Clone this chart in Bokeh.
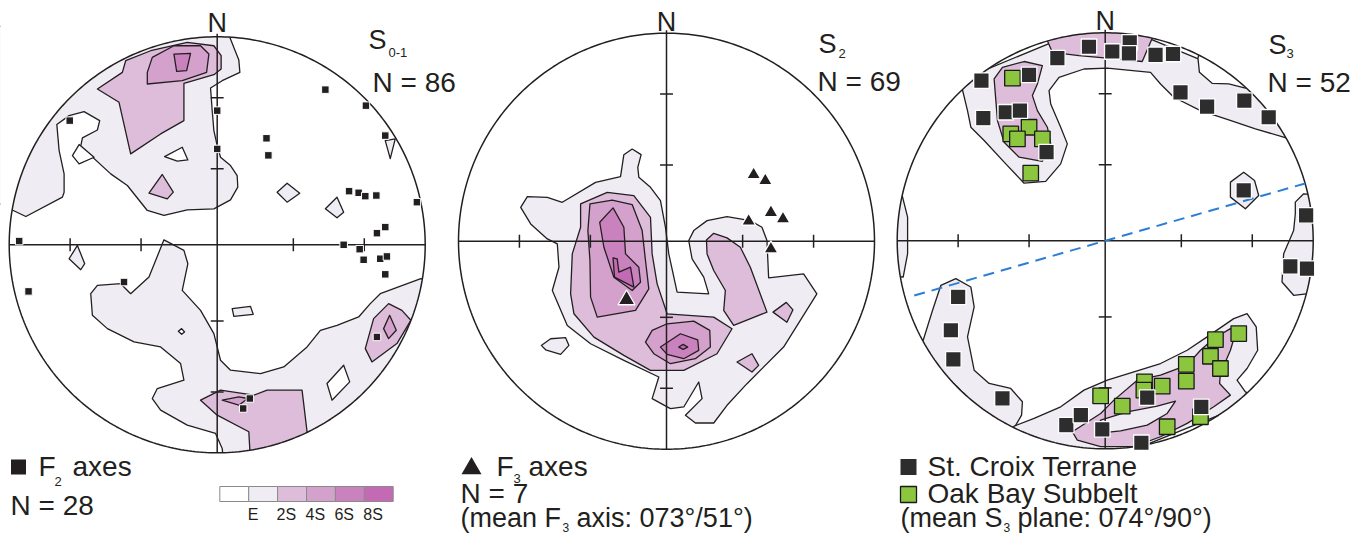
import numpy as np
from bokeh.plotting import figure
from bokeh.models import Range1d
from bokeh.core.properties import value
from bokeh.embed import file_html
from bokeh.resources import INLINE

# ---------------- legend / contour levels ----------------
LEVEL_LABELS = ["E", "2S", "4S", "6S", "8S"]
LEVEL_COLORS = ["#ffffff", "#efedf3", "#ddbdd9", "#d4a1cc", "#ca82be", "#c46ab4"]
TICK_PLUNGES = [60, 30]          # graticule ticks on the equal-area net

# All net coordinates: equal-area projection, east / north in % of net radius
# ---------------- Net 1 : S0-1 poles, F2 axes ----------------
S01_TITLE = ["S", "0-1"]
S01_N = 86
F2_N = 28
S01_L1 = [
    [(4.8, 103), (8, 94.9), (10.4, 88.8), (10.9, 82.9), (2.4, 78.9), (-3.2, 75.4), (-2.4, 64.5), (-1.6, 54.9),
     (0, 47.7), (1.6, 42.1), (6.4, 38.1), (9.6, 33.3), (9.9, 27.7), (6.4, 21.6), (-1.6, 17.3), (-14.4, 16.8),
     (-25.6, 14.1), (-33.6, 16.5), (-43.2, 28.5), (-51.2, 34.1), (-65.6, 47.4), (-64.8, 51.4), (-57.6, 55.2),
     (-56.5, 59.7), (-64, 64), (-71.2, 62.1), (-77.1, 57.8), (-76, 45.3), (-73.6, 34.1), (-73.6, 25.3),
     (-74.4, 22.9), (-92, 13.6), (-100.8, 17.8), (-105, 20), (-105, 105)],
    [(-25.6, 2.4), (-16, -2.7), (-14.1, -9.1), (-16.8, -21.9), (-8, -31.5), (-1.6, -42.7), (1.6, -55.5),
     (6.4, -60.3), (20.8, -61.9), (32, -58.7), (43.2, -49.1), (49.6, -41.1), (57.6, -38.7), (68, -34.7),
     (73.6, -28.3), (78.4, -23.5), (97.9, -16.3), (104, -17), (104, -104), (3, -104), (2.4, -97.9),
     (-0.8, -90.7), (-14.4, -86.7), (-27.2, -79.5), (-31.2, -73.9), (-28.8, -69.1), (-16, -65.1),
     (-17.6, -57.1), (-27.2, -49.1), (-40, -46.7), (-52.8, -40.3), (-60, -33.9), (-60.8, -23.5),
     (-57.6, -19.5), (-46.4, -18.7), (-41.6, -23.5), (-32.8, -15.5)],
    [(7.2, -30.7), (16, -29.6), (17.3, -33.4), (8, -34.4)],
    [(28.8, 25.3), (33.6, 29.6), (39.7, 24.8), (33.6, 20.5)],
    [(52, 17.3), (57.6, 22.9), (60.8, 15.7), (57.6, 13.0)],
    [(80.8, 50.1), (85.6, 50.9), (83.2, 41.4)],
    [(-71.2, -6.7), (-67.2, -0.3), (-63.7, -9.1), (-65.6, -12.0)],
]
S01_HOLES = [
    [(-69.6, 42.9), (-66.4, 48.2), (-59.2, 42.1), (-66.4, 38.9)],
    [(-25.3, 42.4), (-16.8, 46.9), (-14.1, 40.8), (-19.2, 40.2)],
    [(52.8, -66.7), (60.8, -57.9), (63.7, -65.9), (55.2, -74.7)],
    [(-18.7, -41.6), (-17.1, -40.3), (-15.7, -41.9), (-17.1, -43.0)],
]
S01_L2 = [
    [(-57.6, 74.9), (-45.6, 82.9), (-44, 88.5), (-32, 93.3), (-14.4, 97.3), (-1.6, 95.7), (1.9, 90.9),
     (1.9, 84.5), (-1.6, 81.8), (-16, 77.6), (-16, 59.7), (-27.2, 53.3), (-41.6, 43.7), (-47.2, 68.5)],
    [(-32.8, 24.8), (-26.4, 33.8), (-21.1, 25.3), (-24, 22.1)],
    [(-8, -74.7), (1.6, -69.9), (17.6, -72.3), (24, -69.9), (40.8, -69.9), (43.2, -89.9), (46, -98),
     (16, -104), (15.7, -98.7), (15.2, -89.9), (0, -81.9)],
    [(71.2, -49.9), (75.2, -35.5), (82.4, -28.3), (88.8, -31.5), (93.1, -36.3), (86.4, -47.5), (74.4, -56.3)],
]
S01_L3 = [
    [(-33.6, 82.9), (-31.2, 90.1), (-20.8, 95.7), (-8, 95.7), (-4, 91.7), (-5.1, 82.9), (-16.8, 78.9),
     (-33.6, 77.3)],
    [(2.4, -74.7), (10.4, -73.1), (14.7, -73.9), (10.4, -77.1)],
    [(80, -40.3), (82.9, -33.9), (86.1, -41.1), (82.4, -45.1)],
]
S01_L4 = [[(-20.8, 91.7), (-12.8, 92), (-14.7, 83.7), (-19.5, 83.4)]]
F2_E = [52, 71.5, 80.8, 23.7, 24.6, 0, 0, -70.9, 63.4, 68, 71.2, 76.5, 96, 80.8, 76.8, 60.8, 68.5, 70.4,
        78.4, 81.6, 80.8, -95.2, -90.7, -44.8, 76.8, 15.7, 12.5]
F2_N_ = [74.6, 66.9, 52.5, 51.2, 43.0, 64.5, 46.1, 59.7, 25.8, 25.0, 23.4, 23.7, 20.5, 8.5, 5.6, 0, -2.1,
         -7.2, -6.7, -5.6, -14.2, 1.8, -22.4, -17.9, -44.3, -73.9, -78.7]

# ---------------- Net 2 : S2 poles, F3 axes ----------------
S2_TITLE = ["S", "2"]
S2_N = 69
F3_N = 7
F3_MEAN = "073°/51°"
S2_L1 = [
    [(-20.5, 41.6), (-16.5, 44.3), (-12.2, 41.6), (-13.8, 35.5), (-13.3, 30.7), (-7.7, 25.9), (-2.9, 19.5),
     (-0.5, 6.7), (1.1, -6.1), (5.1, -24.5), (20.3, -25.3), (17.9, -17.3), (12.3, -8.5), (10.7, 0.3),
     (13.1, 5.1), (19.5, 9.9), (29.1, 11.8), (40.3, 9.9), (45.9, 6.7), (48.3, 0.3), (49.1, -17.6),
     (65.9, -15.7), (72.3, -25.3), (56.3, -50.9), (38.7, -68.5), (29.1, -78.9), (22.7, -87.4), (13.9, -87.4),
     (9.1, -83.7), (17.1, -75.7), (15.5, -67.7), (8.3, -79.7), (1.9, -80.5), (-6.9, -75.7), (-3.7, -65.3),
     (-20.5, -57.3), (-36.5, -49.3), (-47.7, -40.5), (-54.9, -23.7), (-51.7, -12.5), (-52.5, -1.3),
     (-57.3, 1.1), (-65.3, 8.3), (-70.1, 16.3), (-66.9, 21.4), (-57.3, 21.1), (-50.1, 18.7), (-34.1, 28.3),
     (-22.1, 31.0)],
    [(-60.2, -50.1), (-55.7, -46.9), (-48.5, -46.4), (-46.9, -50.1), (-50.9, -54.4), (-58.1, -52.2)],
]
S2_L2 = [
    [(-41.3, 17.9), (-28.5, 23.5), (-15.7, 21.9), (-7.7, 11.5), (-6.9, -6.1), (-4.5, -20.5), (0.3, -34.9),
     (22.7, -36.5), (31.5, -42.1), (24.3, -54.1), (8.3, -62.1), (-7.7, -62.1), (-20.5, -54.9), (-34.9, -46.1),
     (-44.5, -34.9), (-46.1, -25.3), (-45.3, -6.1), (-41.3, 6.7)],
    [(19.2, 0.6), (22.7, 3.8), (29.1, 1.6), (35.5, -2.9), (40.3, -12.5), (48.3, -34.1), (32.3, -40.5),
     (27.5, -33.3), (28.3, -23.7), (22.7, -14.1), (19.5, -6.1)],
    [(51.2, -34.1), (57.6, -29.4), (60.8, -33.0), (57.9, -39.0)],
    [(33.9, -58.1), (41.1, -54.1), (44.3, -59.7), (41.1, -62.9)],
]
S2_L3 = [
    [(-36.8, 17.9), (-26.1, 19.8), (-16.5, 17.6), (-11.7, 5.1), (-10.1, -9.3), (-8.5, -22.9), (-14.9, -33.3),
     (-33.3, -36.5), (-36.5, -26.9), (-36.8, -9.3), (-37.8, 5.1)],
    [(-10.1, -48.5), (-6.9, -42.9), (0.3, -39.7), (13.1, -38.4), (20.8, -42.9), (21.1, -50.9), (13.9, -56.5),
     (1.9, -58.9), (-6.1, -54.1)],
]
S2_L4 = [
    [(-32.1, 9.1), (-25.7, 16), (-20.5, 6.7), (-19.7, -6.1), (-13.3, -12.5), (-12.5, -19.7), (-16.5, -23.7),
     (-25.3, -17.3), (-30.1, -2.9)],
    [(-2.9, -50.9), (6.7, -44.5), (15.0, -47.4), (15.5, -52.5), (8.3, -56.5), (0.3, -54.4)],
]
S2_L5 = [
    [(-25.7, -8), (-23.7, -8.5), (-22.9, -14.9), (-17.3, -12.5), (-15.7, -22.1), (-25.0, -17.3)],
    [(5.9, -50.9), (8.0, -49.6), (10.2, -50.9), (8.0, -52.0)],
]
F3_E = [41.9, 47.5, 39.5, 50.2, 56.0, 50.2, -19.2]
F3_Nn = [32.0, 29.1, 9.6, 13.8, 10.7, -3.7, -28.2]

# ---------------- Net 3 : S3 poles ----------------
S3_TITLE = ["S", "3"]
S3_N = 52
S3_MEAN_STRIKE = 74
S3_MEAN_DIP = 90
S3_L1 = [
    [(-68.6, 72.5), (-66.2, 62.6), (-64.6, 54.6), (-58.2, 48.2), (-47.8, 37.0), (-39.0, 27.7), (-28.6, 28.6),
     (-21.4, 37.0), (-18.2, 46.6), (-21.4, 54.6), (-26.2, 65.8), (-27.0, 72.2), (-22.2, 78.6), (-10.2, 82.6),
     (1.0, 83.0), (21.8, 81.0), (26.6, 75.4), (33.0, 69.0), (45.8, 62.6), (59.4, 58.1), (72.2, 53.8),
     (87.4, 49.4), (92, 52), (75, 75), (0, 106), (-75, 75)],
    [(91.4, 18.6), (95.4, 22.6), (104, 22), (104, -27), (97.8, -25.4), (90.6, -26.2), (85.0, -19.8),
     (85.8, -6.2), (90.6, 5.0), (91.4, 13.0)],
    [(60.2, 28.2), (66.6, 33.0), (71.8, 29.0), (73.8, 21.8), (67.4, 15.4), (60.2, 21.0)],
    [(-97.8, 22.6), (-95, 11.4), (-95, -6.2), (-97.1, -17.4), (-104, -17), (-104, 22)],
    [(-87.5, -47.8), (-83.0, -33.4), (-79.0, -21.4), (-71.8, -18.2), (-64.6, -22.2), (-63.0, -31.8),
     (-66.2, -46.2), (-63.0, -62.2), (-55.8, -68.6), (-45.4, -71.0), (-39.8, -77.4), (-40.2, -83.8),
     (-43.0, -88.6), (-45, -96), (-92, -50)],
    [(-43.8, -89.1), (-34.2, -85.4), (-21.4, -79.8), (-10.2, -71.8), (1.0, -67.0), (13.8, -63.0),
     (26.6, -59.0), (39.4, -52.6), (49.0, -46.2), (61.8, -37.4), (68.2, -35.0), (72.6, -41.4), (73.3, -52.6),
     (68.2, -61.4), (63.4, -67.0), (67.4, -72.6), (74, -76), (0, -106), (-47, -96)],
]
S3_HOLES = [[(44.6, 87.8), (45.3, 81.0), (51.4, 75.7), (59.4, 75.4), (67.4, 73.4), (72, 78), (46, 94)]]
S3_L2 = [
    [(-27.8, 96.2), (-25.4, 90.6), (-12.6, 89.0), (1.0, 87.8), (17.8, 86.2), (22.6, 97.4), (20, 104), (-28, 102)],
    [(-53.4, 77.8), (-51.8, 57.8), (-48.6, 47.4), (-41.4, 40.2), (-30.2, 38.2), (-26.2, 46.6), (-27.8, 54.6),
     (-32.6, 62.6), (-35.0, 69.8), (-32.6, 75.4), (-30.2, 84.2), (-39.0, 86.2), (-49.4, 83.4)],
    [(-15.8, -91.8), (-2.2, -83.0), (4.2, -76.6), (15.4, -67.0), (26.6, -64.6), (39.4, -59.8), (45.8, -52.6),
     (52.2, -47.0), (60.2, -42.2), (62.6, -44.6), (60.2, -52.6), (55.4, -63.8), (55.0, -68.6), (60.2, -74.2),
     (52.2, -79.8), (39.4, -87.8), (26.6, -94.2), (13.8, -99.0), (-2.2, -99.0), (-13.4, -95.8)],
]
S3_L2_GAPS = [[(-2.2, -86.2), (10.6, -82.2), (25.0, -79.5), (33.8, -77.1), (29.8, -83.0), (20.2, -88.6),
               (7.4, -91.4), (-3.8, -92.6)]]
STCROIX_E = [-23.0, -7.8, 3.4, 11.8, 11.4, 24.2, 32.6, -59.5, -36.6, -58.6, -47.8, -41.0, -28.2, 36.2, 49.0,
             66.9, 78.6, 66.6, 96.6, 89.0, 97.0, -70.7, -74.2, -73.0, -49.4, -18.7, -11.7, -1.4, 17.4, 20.2, 46.2]
STCROIX_N = [87.8, 93.3, 91.0, 95.4, 90.1, 89.4, 89.8, 77.0, 79.8, 59.0, 61.8, 62.6, 42.6, 71.4, 64.5,
             67.4, 59.4, 24.2, 12.2, -12.3, -13.4, -27.0, -43.0, -57.0, -75.8, -88.6, -83.8, -90.7, -97.1,
             -75.4, -79.8]
OAKBAY_E = [-44.6, -36.6, -45.4, -42.2, -30.2, -35.8, -2.2, 8.2, 18.9, 18.6, 27.4, 39.0, 39.0, 50.6, 53.0,
            64.2, 55.4, 29.8, 45.8]
OAKBAY_N = [78.2, 54.6, 51.4, 49.0, 49.0, 32.5, -74.6, -79.5, -67.8, -71.8, -69.9, -59.4, -67.5, -55.5,
            -47.5, -44.6, -61.4, -89.4, -84.6]

# ---------------- layout ----------------
R = 208.0
NETS = [(216.7, 244.3), (666.0, 240.7), (1104.7, 240.3)]
INK = "#231f20"
FONT = value("Liberation Sans")

p = figure(width=1352, height=534, x_range=Range1d(0, 1352), y_range=Range1d(534, 0),
           output_backend="svg", toolbar_location=None, min_border=0)
p.axis.visible = False
p.grid.visible = False
p.outline_line_color = None
p.background_fill_color = "white"
p.border_fill_color = "white"


def px(net, e, n):
    cx, cy = NETS[net]
    return cx + R * np.asarray(e, float) / 100.0, cy - R * np.asarray(n, float) / 100.0


def polys(net, plist, color):
    if not plist:
        return
    xs, ys = [], []
    for poly in plist:
        e, n = zip(*poly)
        x, y = px(net, e, n)
        xs.append(list(x))
        ys.append(list(y))
    p.patches(xs, ys, fill_color=color, line_color=INK, line_width=1.3, line_join="round")


C = LEVEL_COLORS
layers = [
    (0, S01_L1, C[1]), (0, S01_HOLES, C[0]), (0, S01_L2, C[2]), (0, S01_L3, C[3]), (0, S01_L4, C[4]),
    (1, S2_L1, C[1]), (1, S2_L2, C[2]), (1, S2_L3, C[3]), (1, S2_L4, C[4]), (1, S2_L5, C[5]),
    (2, S3_L1, C[1]), (2, S3_HOLES, C[0]), (2, S3_L2, C[2]), (2, S3_L2_GAPS, C[1]),
]
for net, pl, col in layers:
    polys(net, pl, col)

# white mask outside the primitive circles
th = np.linspace(0, 2 * np.pi, 361)
mx, my = [], []
h = 1.075 * R
for cx, cy in NETS:
    sq_x = [cx - h, cx + h, cx + h, cx - h]
    sq_y = [cy - h, cy - h, cy + h, cy + h]
    mx.append([[sq_x, list(cx + R * np.cos(th))]])
    my.append([[sq_y, list(cy + R * np.sin(th))]])
p.multi_polygons(mx, my, fill_color="white", line_color=None)

# primitive circles, cross-hairs, ticks
for cx, cy in NETS:
    p.line(cx + R * np.cos(th), cy + R * np.sin(th), line_color=INK, line_width=1.5)
    p.segment([cx - R, cx], [cy, cy - R - 3], [cx + R, cx], [cy, cy + R], line_color=INK, line_width=1.5)
    rt = [np.sqrt(2) * np.sin(np.radians((90 - pl) / 2)) * R for pl in TICK_PLUNGES]
    t = 0.031 * R
    x0, y0, x1, y1 = [], [], [], []
    for r in rt:
        for s in (-1, 1):
            x0 += [cx + s * r, cx - t]
            y0 += [cy - t, cy + s * r]
            x1 += [cx + s * r, cx + t]
            y1 += [cy + t, cy + s * r]
    p.segment(x0, y0, x1, y1, line_color=INK, line_width=1.5)

# mean S3 plane (vertical great circle -> straight line along strike)
az = np.radians(S3_MEAN_STRIKE)
tt = np.array([-0.955, 1.0]) * 100
lx, ly = px(2, tt * np.sin(az), tt * np.cos(az))
p.line(lx, ly, line_color="#2a7fd4", line_width=2, line_dash="11 7")

# data points
x, y = px(0, F2_E, F2_N_)
p.scatter(x, y, marker="square", size=7.5, fill_color=INK, line_color="white", line_width=1)
x, y = px(1, F3_E, F3_Nn)
tri_size = [14] * (len(F3_E) - 1) + [17]
p.scatter(x, y, marker="triangle", size=tri_size, fill_color=INK, line_color="white", line_width=1.3)
x, y = px(2, OAKBAY_E, OAKBAY_N)
p.scatter(x, y, marker="square", size=15.5, fill_color="#8cc63f", line_color="#1a1a1a", line_width=1.3)
x, y = px(2, STCROIX_E, STCROIX_N)
p.scatter(x, y, marker="square", size=15.5, fill_color="#2d2d2d", line_color="white", line_width=1.3)


def txt(x, base, s, size=28, align="left"):
    # the text glyph is anchored near its vertical middle: lift it so `base` is the baseline
    p.text([x], [base - 0.36 * size], text=[s], text_font=FONT, text_font_size=f"{size}px", text_color=INK,
           text_align=align, text_baseline="alphabetic")


# north labels and titles
for (cx, cy), b in zip(NETS, [32, 31, 30]):
    txt(cx, b, "N", 27, "center")
txt(368, 49, S01_TITLE[0], 27); txt(388, 57, S01_TITLE[1], 13)
txt(372, 92, f"N = {S01_N}")
txt(818, 53, S2_TITLE[0], 27); txt(838, 58, S2_TITLE[1], 13)
txt(817, 91, f"N = {S2_N}")
txt(1268, 54, S3_TITLE[0], 27); txt(1286, 58, S3_TITLE[1], 13)
txt(1267, 92, f"N = {S3_N}")

# legends
p.scatter([18], [466.5], marker="square", size=15, fill_color=INK, line_color=None)
txt(38, 476, "F"); txt(54, 486, "2", 13); txt(72, 476, "axes")
txt(10, 515, f"N = {F2_N}")

p.scatter([471], [468], marker="triangle", size=20, fill_color=INK, line_color=None)
txt(496, 476, "F"); txt(513, 483, "3", 13); txt(528, 476, "axes")
txt(460, 503, f"N = {F3_N}")
txt(460, 527, "(mean F", 27); txt(562, 531, "3", 12); txt(576, 527, f"axis: {F3_MEAN})", 27)

p.scatter([908], [466.5], marker="square", size=16, fill_color="#2d2d2d", line_color=None)
txt(927, 476, "St. Croix Terrane")
p.scatter([908], [494], marker="square", size=16, fill_color="#8cc63f", line_color="#1a1a1a", line_width=1.3)
txt(927, 503, "Oak Bay Subbelt")
txt(900, 527, "(mean S", 27); txt(1003, 531, "3", 12)
txt(1017, 527, f"plane: {S3_MEAN_STRIKE:03d}°/{S3_MEAN_DIP}°)", 27)

# contour colour scale
bw = 28.9
bx = [219.3 + bw * (i + 0.5) for i in range(len(LEVEL_COLORS))]
p.rect(bx, [493.5] * len(bx), width=bw, height=15, fill_color=LEVEL_COLORS, line_color="#8a8a8a", line_width=1)
for i, lab in enumerate(LEVEL_LABELS):
    txt(219.3 + bw * (i + 1) - 1, 520, lab, 16)

open("out.html", "w").write(file_html(p, INLINE))
